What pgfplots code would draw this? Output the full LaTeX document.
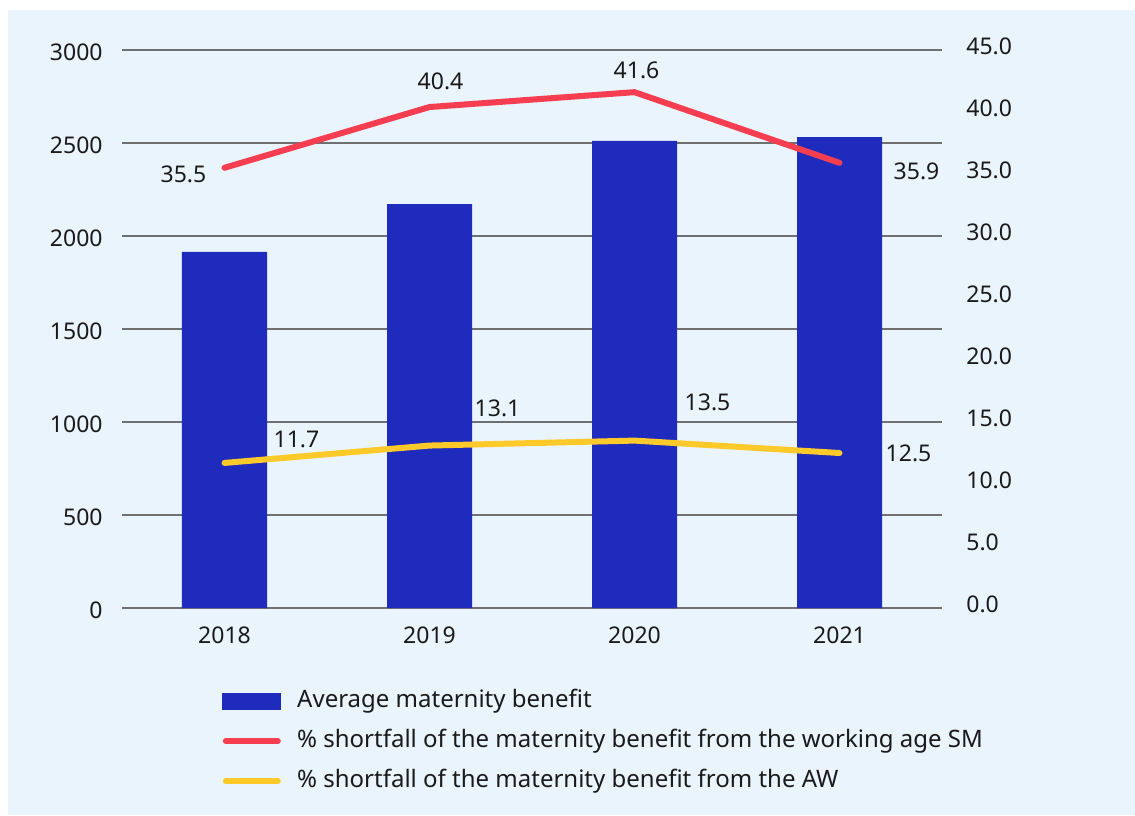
\documentclass[border=0pt]{standalone}
\usepackage{fontspec}
\setmainfont{Noto Sans}
\usepackage{pgfplots}
\pgfplotsset{compat=1.18}
\definecolor{bgblue}{HTML}{EAF4FD}
\definecolor{barblue}{HTML}{1F2BBD}
\definecolor{linered}{HTML}{F73D50}
\definecolor{lineyellow}{HTML}{FFC929}
\definecolor{gridgray}{HTML}{6F7072}
\definecolor{txt}{HTML}{1A1A1A}
\begin{document}
\begin{tikzpicture}[font=\fontsize{11.5}{14}\selectfont, text=txt]
\path[use as bounding box] (0,0) rectangle (567.5pt,407.5pt);
\fill[bgblue] (4pt,0pt) rectangle (567.5pt,402.5pt);
\begin{axis}[
  at={(61pt,103.5pt)}, anchor=south west, scale only axis,
  width=410pt, height=279pt,
  xmin=-0.5, xmax=3.5, ymin=0, ymax=3000,
  axis line style={draw=none}, major tick length=0pt,
  ytick={0,500,...,3000},
  xtick={0,1,2,3}, xticklabels={2018,2019,2020,2021},
  ymajorgrids, grid style={line width=0.6pt, color=gridgray},
  ybar, bar width=42.5pt,
  yticklabel style={inner sep=0pt, yshift=-1pt}, yticklabel shift=9.5pt,
  xticklabel style={inner sep=0pt}, xticklabel shift=9pt,
  /pgf/number format/assume math mode=true,
  /pgf/number format/set thousands separator={},
  clip=false,
]
\addplot[fill=barblue, draw=none] coordinates {(0,1914) (1,2172) (2,2511) (3,2532)};
\end{axis}
\begin{axis}[
  at={(61pt,103.5pt)}, anchor=south west, scale only axis,
  width=410pt, height=279pt,
  xmin=-0.5, xmax=3.5, ymin=0, ymax=45,
  axis line style={draw=none}, major tick length=0pt,
  xtick=\empty,
  ytick={0,5,...,45}, yticklabel pos=right,
  yticklabel style={inner sep=0pt, yshift=2pt}, yticklabel shift=12pt,
  /pgf/number format/.cd, fixed, fixed zerofill, precision=1, assume math mode=true,
  /pgfplots/.cd,
  clip=false,
  legend cell align=left,
  legend style={at={(0.122,-0.1446)}, anchor=north west, draw=none, fill=none,
    inner sep=0pt, row sep=8pt, column sep=8pt,
    nodes={inner sep=0pt, text height=9pt, text depth=3pt},
    font=\fontsize{12}{14}\selectfont},
]
\addlegendimage{legend image code/.code={\fill[barblue] (0pt,-4pt) rectangle (29pt,4pt);}}
\addlegendentry{Average maternity benefit}
\addplot[linered, line width=3pt, line cap=round, line join=round, mark=none,
  legend image code/.code={\draw[linered, line width=3.2pt, line cap=round] (1.6pt,0pt) -- (27.4pt,0pt);}]
  coordinates {(0,35.5) (1,40.4) (2,41.6) (3,35.9)};
\addlegendentry{\% shortfall of the maternity benefit from the working age SM}
\addplot[lineyellow, line width=3pt, line cap=round, line join=round, mark=none,
  legend image code/.code={\draw[lineyellow, line width=3.2pt, line cap=round] (1.6pt,0pt) -- (27.4pt,0pt);}]
  coordinates {(0,11.7) (1,13.1) (2,13.5) (3,12.5)};
\addlegendentry{\% shortfall of the maternity benefit from the AW}
\node[xshift=-20.5pt, yshift=-3.5pt] at (axis cs:0,35.5) {35.5};
\node[xshift=5.5pt, yshift=13pt] at (axis cs:1,40.4) {40.4};
\node[xshift=1pt, yshift=11pt] at (axis cs:2,41.6) {41.6};
\node[xshift=38.5pt, yshift=-4pt] at (axis cs:3,35.9) {35.9};
\node[xshift=36pt, yshift=11.5pt] at (axis cs:0,11.7) {11.7};
\node[xshift=34pt, yshift=18.5pt] at (axis cs:1,13.1) {13.1};
\node[xshift=36.5pt, yshift=19pt] at (axis cs:2,13.5) {13.5};
\node[xshift=34.5pt, yshift=0pt] at (axis cs:3,12.5) {12.5};
\end{axis}
\end{tikzpicture}
\end{document}
